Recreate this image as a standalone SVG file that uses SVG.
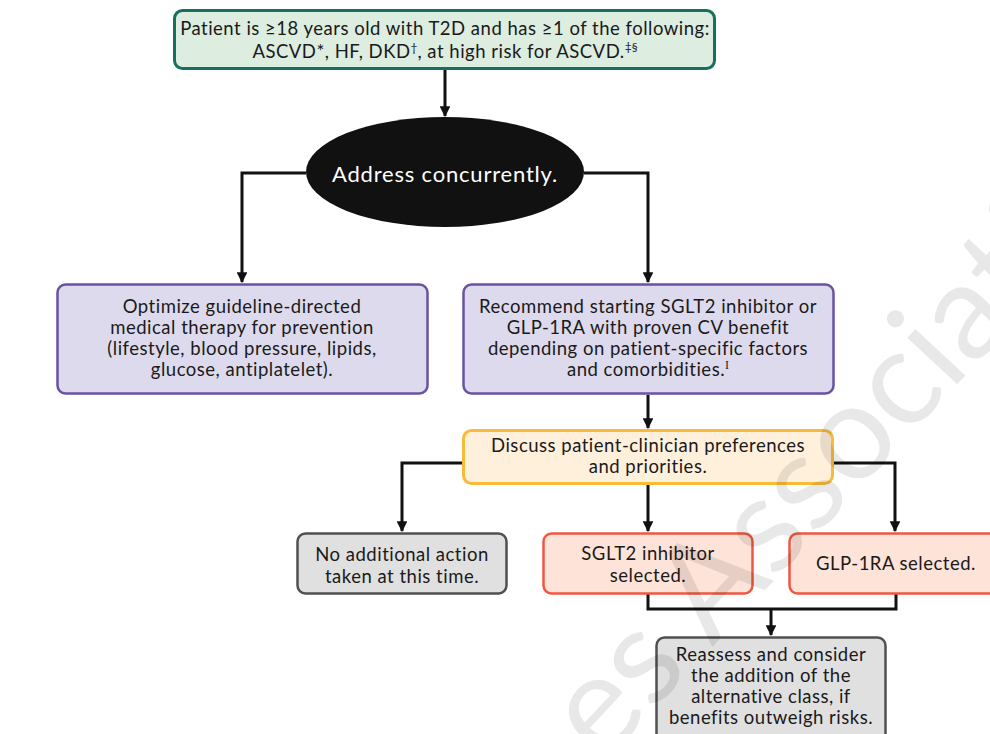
<svg xmlns="http://www.w3.org/2000/svg" width="990" height="734" viewBox="0 0 990 734">
<defs>
<marker id="ah" viewBox="0 0 10 10" refX="9" refY="5" markerWidth="3.6" markerHeight="3.6" orient="auto" markerUnits="strokeWidth"><path d="M0,0 L10,5 L0,10 z" fill="#111"/></marker>
<style>
text{font-family:Lato,"Noto Sans","Liberation Sans",sans-serif;font-size:18.5px;letter-spacing:0.5px;fill:#1a1a1a;text-anchor:middle}
.conn{fill:none;stroke:#111;stroke-width:3}
.arr{marker-end:url(#ah)}
.green{fill:#ddede0;stroke:#16705f;stroke-width:3}
.purple{fill:#dedaed;stroke:#6a52a1;stroke-width:2.5}
.yellow{fill:#fff0dc;stroke:#f7bb3a;stroke-width:3}
.grey{fill:#e0e0e0;stroke:#505050;stroke-width:2.5}
.red{fill:#fde3d8;stroke:#f05843;stroke-width:2.5}
.sup{font-size:12px;letter-spacing:0}
.wm{font-size:135px;letter-spacing:0;fill:#000;fill-opacity:0.09;text-anchor:start}
</style>
</defs>
<rect width="990" height="734" fill="#ffffff"/>
<g id="connectors">
<path class="conn arr" d="M445,70 V116"/>
<path class="conn arr" d="M306,173 H242 V282"/>
<path class="conn arr" d="M584,173 H648 V282"/>
<path class="conn arr" d="M648,395 V428"/>
<path class="conn arr" d="M463,463 H402 V531"/>
<path class="conn arr" d="M648,484 V531"/>
<path class="conn arr" d="M833,463 H895 V531"/>
<path class="conn" d="M648,594 V609 H896 V594"/>
<path class="conn arr" d="M771,609 V635"/>
</g>
<g id="n-patient">
<rect class="green" x="174.5" y="10.5" width="540" height="58" rx="8"/>
<text x="445" y="35">Patient is ≥18 years old with T2D and has ≥1 of the following:</text>
<text x="445" y="58">ASCVD*, HF, DKD<tspan class="sup" dy="-6">†</tspan><tspan dy="6">, at high risk for ASCVD.</tspan><tspan class="sup" dy="-7">‡§</tspan></text>
</g>
<g id="n-address">
<ellipse cx="445" cy="172" rx="139" ry="55" fill="#111"/>
<text x="445" y="182" style="font-size:22px;letter-spacing:0.8px;fill:#fff">Address concurrently.</text>
</g>
<g id="n-optimize">
<rect class="purple" x="57.5" y="284.5" width="370" height="109" rx="8"/>
<text x="242" y="313">Optimize guideline-directed</text>
<text x="242" y="334">medical therapy for prevention</text>
<text x="242" y="355">(lifestyle, blood pressure, lipids,</text>
<text x="242" y="376">glucose, antiplatelet).</text>
</g>
<g id="n-recommend">
<rect class="purple" x="463.5" y="284.5" width="370" height="109" rx="8"/>
<text x="648" y="313">Recommend starting SGLT2 inhibitor or</text>
<text x="648" y="334">GLP-1RA with proven CV benefit</text>
<text x="648" y="355">depending on patient-specific factors</text>
<text x="648" y="376">and comorbidities.<tspan class="sup" dy="-7" style="font-family:'Liberation Serif',serif">I</tspan></text>
</g>
<g id="n-discuss">
<rect class="yellow" x="463.5" y="430.5" width="369" height="53" rx="8"/>
<text x="648" y="452">Discuss patient-clinician preferences</text>
<text x="648" y="473">and priorities.</text>
</g>
<g id="n-noaction">
<rect class="grey" x="297.5" y="533.5" width="209" height="60" rx="8"/>
<text x="402" y="561">No additional action</text>
<text x="402" y="583">taken at this time.</text>
</g>
<g id="n-sglt2">
<rect class="red" x="543.5" y="533.5" width="209" height="60" rx="8"/>
<text x="648" y="560">SGLT2 inhibitor</text>
<text x="648" y="582">selected.</text>
</g>
<g id="n-glp1">
<rect class="red" x="789.5" y="533.5" width="214" height="60" rx="8"/>
<text x="896" y="570">GLP-1RA selected.</text>
</g>
<g id="n-reassess">
<rect class="grey" x="656.5" y="637.5" width="229" height="104" rx="8"/>
<text x="771" y="661">Reassess and consider</text>
<text x="771" y="682">the addition of the</text>
<text x="771" y="703">alternative class, if</text>
<text x="771" y="724">benefits outweigh risks.</text>
</g>
<g id="watermark">
<text class="wm" transform="translate(603,764) rotate(-47)">es Association</text>
</g>
</svg>
